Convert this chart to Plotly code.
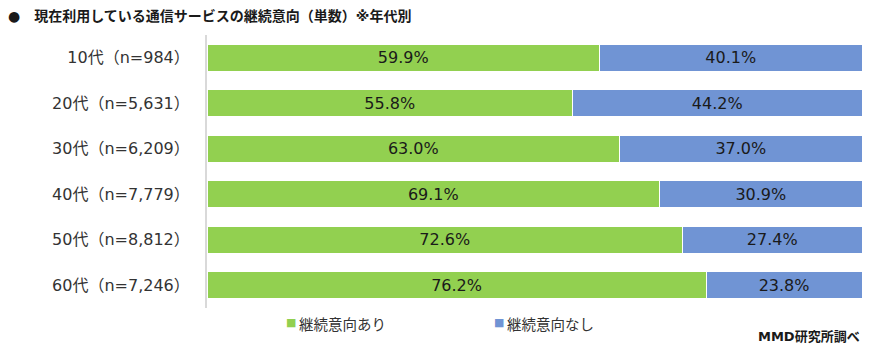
import plotly.graph_objects as go

categories = ["10代（n=984）", "20代（n=5,631）", "30代（n=6,209）",
              "40代（n=7,779）", "50代（n=8,812）", "60代（n=7,246）"]
yes_vals = [59.9, 55.8, 63.0, 69.1, 72.6, 76.2]
no_vals = [40.1, 44.2, 37.0, 30.9, 27.4, 23.8]
series_names = ["継続意向あり", "継続意向なし"]
title_text = "●　現在利用している通信サービスの継続意向（単数）※年代別"
source_text = "MMD研究所調べ"

FONT = "DejaVu Sans, Noto Sans CJK JP, sans-serif"
GREEN = "#92D050"
BLUE = "#7094D4"
colors = [GREEN, BLUE]

fig = go.Figure()
for name, vals, color in zip(series_names, [yes_vals, no_vals], colors):
    fig.add_trace(go.Bar(
        y=categories, x=vals, name=name, orientation="h",
        marker=dict(color=color, line=dict(color="white", width=1)),
        text=[f"{v:.1f}%" for v in vals],
        textposition="inside", insidetextanchor="middle",
        textfont=dict(family=FONT, size=16, color="#1a1a1a"),
        width=0.59, hoverinfo="skip", showlegend=False,
    ))

PW = 655  # plot width in px
fig.update_layout(
    barmode="stack",
    width=873, height=352,
    margin=dict(l=207, r=11, t=35, b=44),
    paper_bgcolor="white", plot_bgcolor="white",
    font=dict(family=FONT, size=16, color="#333333"),
    uniformtext=dict(minsize=8, mode="show"),
)
fig.update_xaxes(range=[0, 100], showgrid=False, showticklabels=False, zeroline=False,
                 showline=False, fixedrange=True)
fig.update_yaxes(autorange="reversed", showgrid=False, showline=True, linecolor="#d9d9d9",
                 linewidth=2, ticks="", ticklabelstandoff=12,
                 tickfont=dict(family=FONT, size=16, color="#333333"))

fig.add_annotation(text=title_text, xref="paper", yref="paper", x=-201 / PW, y=1.0,
                   xanchor="left", yanchor="bottom", yshift=9, showarrow=False,
                   font=dict(family=FONT, size=14, color="#1a1a1a", weight="bold"))
fig.add_annotation(text=source_text, xref="paper", yref="paper", x=1.0, y=0,
                   xanchor="right", yanchor="top", yshift=-19, showarrow=False,
                   font=dict(family=FONT, size=13, color="#1a1a1a", weight="bold"))

# custom legend
legend_sq_x = [285, 493]
for name, color, sx in zip(series_names, colors, legend_sq_x):
    fig.add_annotation(
        text="■", xref="paper", yref="paper", x=(sx - 207 - 1) / PW, y=0,
        xanchor="left", yanchor="middle", yshift=-14, showarrow=False,
        font=dict(family=FONT, size=11, color=color))
    fig.add_annotation(
        text=name, xref="paper", yref="paper", x=(sx + 12 - 207) / PW, y=0,
        xanchor="left", yanchor="middle", yshift=-17, showarrow=False,
        font=dict(family=FONT, size=14.5, color="#333333"))

fig.write_html("out.html")
